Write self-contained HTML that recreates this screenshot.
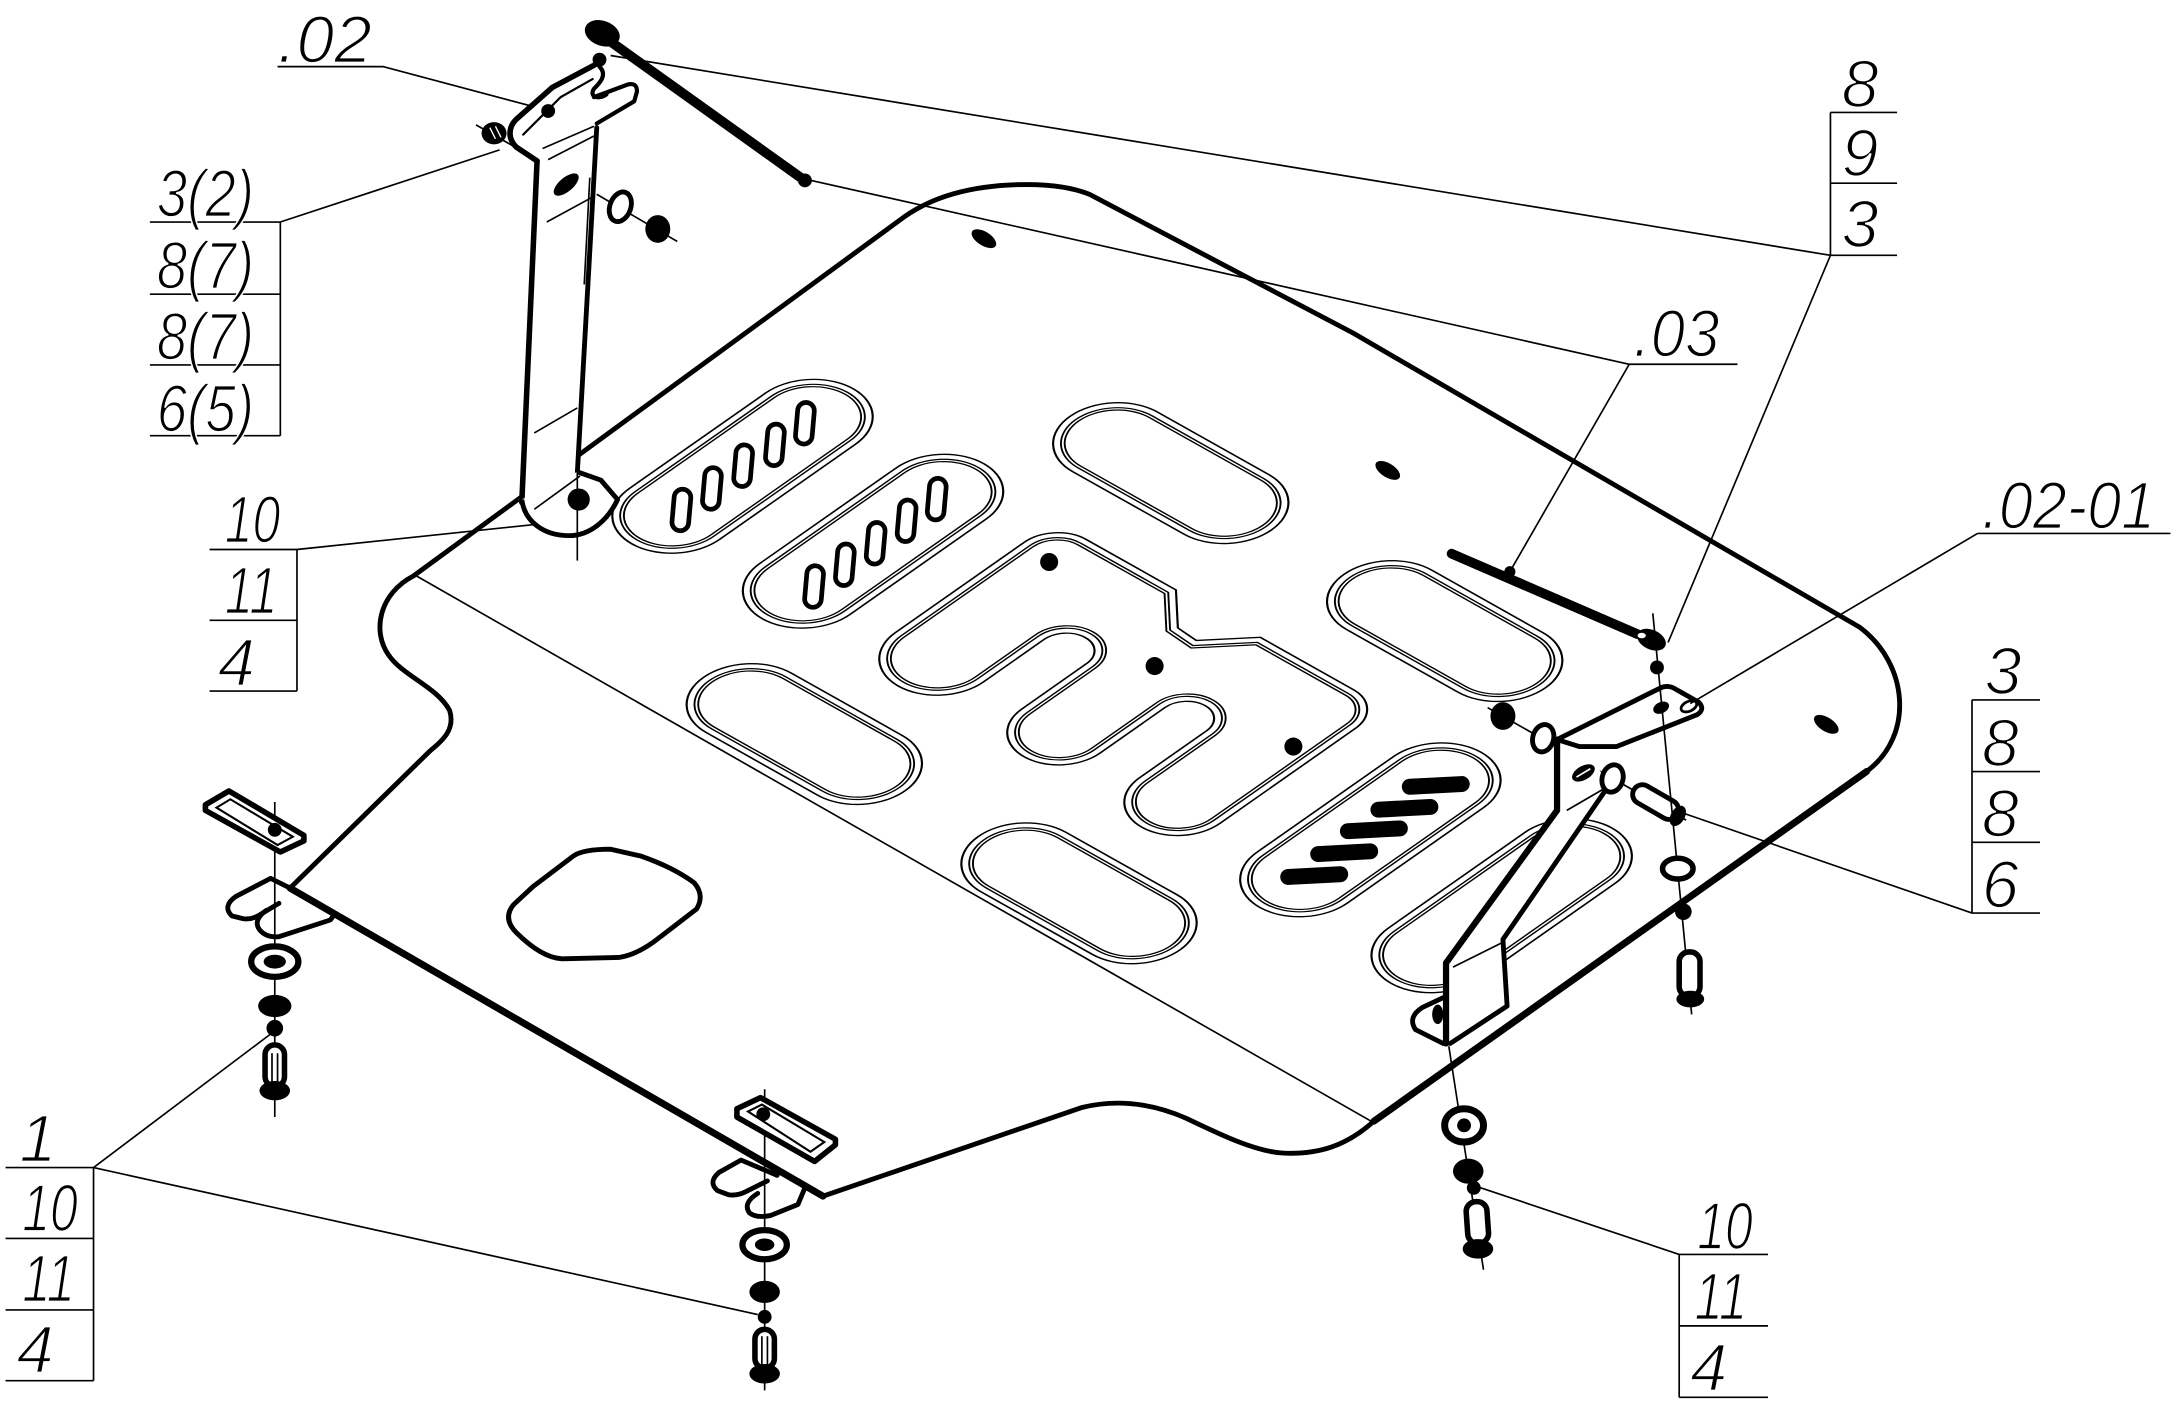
<!DOCTYPE html>
<html><head><meta charset="utf-8"><style>
html,body{margin:0;padding:0;background:#fff;}
svg{display:block;}
.t{font-family:"Liberation Sans",sans-serif;font-style:italic;font-size:48px;fill:#000;stroke:#fff;stroke-width:1.3px;}
.th{fill:none;stroke:#000;stroke-width:1.2;}
.k1{fill:none;stroke:#000;stroke-width:13;}
.k2{fill:#fff;stroke:#fff;stroke-width:10.4;}
.k3{fill:none;stroke:#000;stroke-width:3.4;}
.k4{fill:none;stroke:#fff;stroke-width:1.1;}
.b{fill:#000;}
.w{fill:#fff;stroke:#000;stroke-width:3.5;stroke-linejoin:round;}
.o{fill:none;stroke:#000;stroke-width:3.5;stroke-linejoin:round;stroke-linecap:round;}
</style></head><body>
<svg xmlns="http://www.w3.org/2000/svg" width="2176" height="1414" viewBox="0 0 1568 1019" preserveAspectRatio="none">
<defs>
<rect id="A" x="-91.5" y="-31.5" width="183" height="63" rx="31.5" ry="31.5"/>
<rect id="B" x="-31.5" y="-77.5" width="63" height="155" rx="31.5" ry="31.5"/>
<path id="E" d="M -90,830.5 L 23,830.5 A 20.5 20.5 0 0 1 43.5,851 L 43.5,923 L 18,948.5 L 16,970 L 43.5,997.5 L 43.5,1072 A 20.5 20.5 0 0 1 23,1092.5 L -96,1092.5 A 27.5 27.5 0 0 1 -96,1037.5 L -37,1037.5 A 23 23 0 0 0 -37,991.5 L -94,991.5 A 26.5 26.5 0 0 1 -94,938.5 L -37,938.5 A 23.5 23.5 0 0 0 -37,891.5 L -90,891.5 A 30.5 30.5 0 0 1 -90,830.5 Z"/>
</defs>
<rect x="0" y="0" width="1568" height="1019" fill="#fff"/>

<!-- plate -->
<path class="w" d="M209,640 L310,541 C320,533 328,525 324,512 C315,495 290,487 280,472 C268,455 273,428 298,415 L652,156 C672,142 700,133 740,133 C760,133 775,136 785,140 L975,240 L1340,452 C1375,478 1380,530 1345,556 L990,808 C970,826 950,832 925,831 C905,830 880,818 855,806 C830,795 805,792 780,798 L593,862 Z"/>
<path class="o" style="stroke-width:5" d="M209,640 L593,862 M1345,556 L990,808"/>
<path class="th" d="M300,415 L988,808"/>
<path class="o" d="M384,639 L413,617 Q420,612 440,612 L462,617 Q485,625 500,636 Q508,645 502,655 L476,675 Q460,688 446,690 L405,691 Q390,690 372,672 Q362,662 370,652 Z"/>

<!-- slots -->
<g transform="matrix(0.819,-0.574,0.872,0.49,0,0)">
<g transform="translate(-34.2,645.7)"><use href="#A" class="k1"/><use href="#A" class="k2"/><use href="#A" class="k3"/><use href="#A" class="k4"/></g>
<g transform="translate(-35.3,754.6)"><use href="#A" class="k1"/><use href="#A" class="k2"/><use href="#A" class="k3"/><use href="#A" class="k4"/></g>
<g transform="translate(-41.7,1171.6)"><use href="#A" class="k1"/><use href="#A" class="k2"/><use href="#A" class="k3"/><use href="#A" class="k4"/></g>
<g transform="translate(-43.2,1281.5)"><use href="#A" class="k1"/><use href="#A" class="k2"/><use href="#A" class="k3"/><use href="#A" class="k4"/></g>
<g transform="translate(128.7,846.6)"><use href="#B" class="k1"/><use href="#B" class="k2"/><use href="#B" class="k3"/><use href="#B" class="k4"/></g>
<g transform="translate(125.9,1075.6)"><use href="#B" class="k1"/><use href="#B" class="k2"/><use href="#B" class="k3"/><use href="#B" class="k4"/></g>
<g transform="translate(-196.6,849.3)"><use href="#B" class="k1"/><use href="#B" class="k2"/><use href="#B" class="k3"/><use href="#B" class="k4"/></g>
<g transform="translate(-200,1079.5)"><use href="#B" class="k1"/><use href="#B" class="k2"/><use href="#B" class="k3"/><use href="#B" class="k4"/></g>
<use href="#E" class="k1"/><use href="#E" class="k2"/><use href="#E" class="k3"/><use href="#E" class="k4"/>
</g>

<!-- holes in slots -->
<g class="w" style="stroke-width:3.4">
<rect x="485" y="352.5" width="12" height="30" rx="6" transform="rotate(5 491 367.5)"/>
<rect x="507" y="337" width="12" height="30" rx="6" transform="rotate(5 513 352)"/>
<rect x="529.5" y="320.6" width="12" height="30" rx="6" transform="rotate(5 535.5 335.6)"/>
<rect x="552.4" y="305.6" width="12" height="30" rx="6" transform="rotate(5 558.4 320.6)"/>
<rect x="574" y="290" width="12" height="30" rx="6" transform="rotate(5 580 305)"/>
<rect x="580.6" y="407.7" width="12" height="30" rx="6" transform="rotate(5 586.6 422.7)"/>
<rect x="602.8" y="392" width="12" height="30" rx="6" transform="rotate(5 608.8 407)"/>
<rect x="625" y="376.5" width="12" height="30" rx="6" transform="rotate(5 631 391.5)"/>
<rect x="647.3" y="360.3" width="12" height="30" rx="6" transform="rotate(5 653.3 375.3)"/>
<rect x="669" y="344.7" width="12" height="30" rx="6" transform="rotate(5 675 359.7)"/>
</g>
<g class="b">
<rect x="922.5" y="625.25" width="49" height="11.5" rx="5.75" transform="rotate(-3 947 631)"/>
<rect x="944.1" y="608.75" width="49" height="11.5" rx="5.75" transform="rotate(-3 968.6 614.5)"/>
<rect x="965.5" y="592.25" width="49" height="11.5" rx="5.75" transform="rotate(-3 990 598)"/>
<rect x="987.5" y="576.75" width="49" height="11.5" rx="5.75" transform="rotate(-3 1012 582.5)"/>
<rect x="1010.1" y="560.25" width="49" height="11.5" rx="5.75" transform="rotate(-3 1034.6 566)"/>
<circle cx="756" cy="405" r="6.5"/>
<circle cx="832" cy="480" r="6.5"/>
<circle cx="932" cy="538" r="6.5"/>
<ellipse cx="709" cy="172" rx="10" ry="5" transform="rotate(32 709 172)"/>
<ellipse cx="1000" cy="339" rx="10" ry="5" transform="rotate(32 1000 339)"/>
<ellipse cx="1316" cy="522" rx="10" ry="5" transform="rotate(32 1316 522)"/>
</g>

<!-- top-left bracket -->
<polygon fill="#fff" points="389,113 430,91 416,341 445,360 438,375 410,386 380,375 376,360"/>
<path class="o" style="stroke-width:4" d="M387,116 L376,362"/>
<path class="o" d="M430,92 L416,341"/>
<path class="th" d="M425,128 L421,205"/>
<path class="th" d="M394,160 L427,142 M385,312 L416,294 M391,107 L428,91 M395,115 L428,98"/>
<path class="o" style="stroke-width:4" d="M387,116 L372,106 C366,100 366,92 372,86 L398,63 L430,46"/>
<path class="o" style="stroke-width:1.6" d="M377,97 L404,70 L427,57"/>
<circle class="b" cx="395" cy="80" r="5"/>
<path class="o" style="stroke-width:3" d="M428,70 L452,61 Q459,59 459,66 L457,73 L430,89"/>
<path class="o" style="stroke-width:3" d="M432,48 C438,54 432,60 428,64 C424,70 432,72 437,68"/>
<circle class="b" cx="432" cy="43" r="5"/>
<ellipse class="b" cx="408" cy="133" rx="11" ry="5" transform="rotate(-40 408 133)"/>
<path class="w" d="M376,360 C378,376 392,386 410,386 C425,386 438,375 445,360 L433,346 L416,340"/>
<path class="th" d="M385,367 L418,343"/>
<circle class="b" cx="417" cy="360" r="8"/>
<path class="th" d="M416,330 L416,404"/>
<path class="th" d="M430,140 L488,174"/>
<ellipse class="w" cx="447" cy="149" rx="7.5" ry="11" transform="rotate(20 447 149)"/>
<ellipse class="b" cx="474" cy="165" rx="9" ry="10"/>
<path class="th" d="M343,90 L380,111"/>
<ellipse class="b" cx="356" cy="96" rx="9" ry="8"/>
<path stroke="#fff" stroke-width="1" d="M353,92 L357,100 M357,91 L361,99"/>
<path stroke="#000" stroke-width="7" d="M440,30 L577,128"/>
<circle class="b" cx="580" cy="130" r="5"/>
<ellipse class="b" cx="434" cy="24" rx="13" ry="9" transform="rotate(20 434 24)"/>

<!-- right bracket .02-01 -->
<path class="th" d="M1072,510 L1215,591"/>
<polygon fill="#fff" points="1122,533 1140,538 1160,565 1083,677 1086,725 1047,752 1042,752 1042,694 1122,584"/>
<path class="o" style="stroke-width:4.5" d="M1122,533 L1122,584 L1042,694 L1042,752"/>
<path class="o" d="M1160,565 L1083,677 L1086,725 L1045,752"/>
<path class="th" d="M1129,584 L1160,566 M1047,697 L1083,679"/>
<path class="w" d="M1122,533 L1196,496 Q1202,493 1208,497 L1224,506 Q1229,511 1223,515 L1165,538 L1138,538 Z"/>
<ellipse class="b" cx="1197" cy="510" rx="6" ry="4" transform="rotate(-25 1197 510)"/>
<ellipse class="w" cx="1217" cy="509" rx="6" ry="3.5" style="stroke-width:2" transform="rotate(-25 1217 509)"/>
<path class="o" d="M1042,718 L1025,726 Q1014,733 1020,742 L1040,752"/>
<ellipse class="b" cx="1036" cy="731" rx="4" ry="7"/>
<ellipse class="b" cx="1083" cy="516" rx="9" ry="10"/>
<ellipse class="w" cx="1112" cy="532" rx="7.5" ry="10" transform="rotate(15 1112 532)"/>
<ellipse class="b" cx="1141" cy="557" rx="9" ry="5" transform="rotate(-30 1141 557)"/>
<path stroke="#fff" stroke-width="1.2" d="M1136,560 L1146,554"/>
<ellipse class="w" cx="1162" cy="561" rx="7.5" ry="10" transform="rotate(15 1162 561)"/>
<rect class="w" x="1175" y="571" width="36" height="14" rx="7" transform="rotate(30 1193 578)"/>
<ellipse class="b" cx="1209" cy="588" rx="5" ry="8" transform="rotate(30 1209 588)"/>
<path stroke="#000" stroke-width="7" stroke-linecap="round" d="M1046,399 L1180,457"/>
<ellipse class="b" cx="1190" cy="461" rx="11" ry="7" transform="rotate(25 1190 461)"/>
<ellipse fill="#fff" cx="1183" cy="458" rx="3" ry="2"/>
<circle class="b" cx="1194" cy="481" r="5"/>
<circle class="b" cx="1088" cy="412" r="4"/>
<path class="th" d="M1191,442 L1219,731"/>
<ellipse class="w" cx="1209" cy="626" rx="11" ry="7.5" style="stroke-width:4"/>
<circle class="b" cx="1213" cy="657" r="6"/>
<rect class="w" x="1210" y="686" width="15" height="32" rx="7" style="stroke-width:4"/>
<ellipse class="b" cx="1218" cy="720" rx="10" ry="6"/>

<!-- bottom-left hardware -->
<path class="th" d="M198,578 L198,805"/>
<path class="w" style="stroke-width:4" d="M148,580 L165,570 L219,602 L219,606 L202,614 L148,584 Z"/>
<path class="th" style="stroke-width:1.5" d="M156,582 L166,576 L211,603 L200,609 Z"/>
<circle class="b" cx="198" cy="598" r="5"/>
<path class="o" d="M209,640 L195,633 L170,646 Q160,653 167,660 L175,662 Q180,663 186,660 L201,651"/>
<path class="o" d="M192,656 Q182,663 187,670 Q192,676 201,675 L238,663 L241,659"/>
<ellipse class="w" cx="198" cy="693" rx="17" ry="11" style="stroke-width:4.5"/>
<ellipse class="b" cx="198" cy="693" rx="8" ry="5"/>
<ellipse class="b" cx="198" cy="725" rx="12" ry="8"/>
<circle class="b" cx="198" cy="741" r="6"/>
<rect class="w" x="191" y="753" width="14" height="30" rx="7" style="stroke-width:4"/>
<ellipse class="b" cx="198" cy="786" rx="11" ry="7"/>
<path class="th" d="M196,759 L196,781 M200,759 L200,781"/>

<!-- bottom-middle hardware -->
<path class="th" d="M551,785 L551,1002"/>
<path class="w" style="stroke-width:4" d="M531,799 L548,791 L602,821 L602,825 L587,837 L531,805 Z"/>
<path class="th" style="stroke-width:1.5" d="M539,801 L549,796 L594,823 L584,830 Z"/>
<circle class="b" cx="550" cy="803" r="5"/>
<path class="o" d="M560,847 L534,836 L518,845 Q510,852 517,858 L525,861 Q531,862 537,859 L553,851"/>
<path class="o" d="M546,860 Q535,867 540,874 Q545,878 555,876 L575,868 L580,856"/>
<ellipse class="w" cx="551" cy="897" rx="16" ry="10.5" style="stroke-width:4.5"/>
<ellipse class="b" cx="551" cy="897" rx="7" ry="4.5"/>
<ellipse class="b" cx="551" cy="931" rx="11" ry="8"/>
<circle class="b" cx="551" cy="949" r="5"/>
<rect class="w" x="544" y="958" width="14" height="28" rx="7" style="stroke-width:4"/>
<ellipse class="b" cx="551" cy="990" rx="11" ry="7"/>
<path class="th" d="M549,963 L549,984 M553,963 L553,984"/>

<!-- bottom-right hardware -->
<path class="th" d="M1044,754 L1069,915"/>
<ellipse class="w" cx="1055" cy="811" rx="14" ry="12" style="stroke-width:5"/>
<circle class="b" cx="1055" cy="811" r="5"/>
<ellipse class="b" cx="1058" cy="844" rx="11" ry="9"/>
<circle class="b" cx="1062" cy="856" r="5"/>
<rect class="w" x="1057" y="866" width="15" height="30" rx="7" style="stroke-width:4" transform="rotate(-4 1064 880)"/>
<ellipse class="b" cx="1065" cy="900" rx="11" ry="7"/>

<!-- leader lines and label frames -->
<path class="th" d="M200,48 L276,48 L385,77"/>
<path class="th" d="M108,160 L202,160 M108,212 L202,212 M108,263 L202,263 M108,314 L202,314 M202,160 L202,314 M202,160 L360,108"/>
<path class="th" d="M151,396 L214,396 M151,447 L214,447 M151,498 L214,498 M214,396 L214,498 M214,396 L385,378"/>
<path class="th" d="M1319,81 L1367,81 M1319,132 L1367,132 M1319,184 L1367,184 M1319,81 L1319,184 M1319,184 L440,40 M1319,184 L1202,463"/>
<path class="th" d="M1174,262.5 L1252,262.5 M1174,262.5 L580,129 M1174,262.5 L1088,412"/>
<path class="th" d="M1425,384.4 L1564,384.4 M1425,384.4 L1218,507"/>
<path class="th" d="M1421,504.4 L1470,504.4 M1421,556 L1470,556 M1421,607 L1470,607 M1421,658 L1470,658 M1421,504.4 L1421,658 M1421,658 L1210,585"/>
<path class="th" d="M1210,904 L1274,904 M1210,955.5 L1274,955.5 M1210,1007 L1274,1007 M1210,904 L1210,1007 M1210,904 L1064,855"/>
<path class="th" d="M4,841.4 L67.4,841.4 M4,892.5 L67.4,892.5 M4,944 L67.4,944 M4,995 L67.4,995 M67.4,841.4 L67.4,995 M67.4,841.4 L194.4,745.6 M67.4,841.4 L546,947.3"/>

<!-- labels -->
<text class="t" x="200" y="45" textLength="68" lengthAdjust="spacingAndGlyphs">.02</text>
<text class="t" x="113" y="156" textLength="70" lengthAdjust="spacingAndGlyphs">3(2)</text>
<text class="t" x="113" y="208" textLength="70" lengthAdjust="spacingAndGlyphs">8(7)</text>
<text class="t" x="113" y="259" textLength="70" lengthAdjust="spacingAndGlyphs">8(7)</text>
<text class="t" x="113" y="311" textLength="70" lengthAdjust="spacingAndGlyphs">6(5)</text>
<text class="t" x="162" y="391" textLength="40" lengthAdjust="spacingAndGlyphs">10</text>
<text class="t" x="162" y="442" textLength="38" lengthAdjust="spacingAndGlyphs">11</text>
<text class="t" x="157" y="494">4</text>
<text class="t" x="1327" y="77">8</text>
<text class="t" x="1327" y="127">9</text>
<text class="t" x="1327" y="178">3</text>
<text class="t" x="1177" y="257" textLength="62" lengthAdjust="spacingAndGlyphs">.03</text>
<text class="t" x="1428" y="381" textLength="125" lengthAdjust="spacingAndGlyphs">.02-01</text>
<text class="t" x="1430" y="500">3</text>
<text class="t" x="1428" y="552">8</text>
<text class="t" x="1428" y="603">8</text>
<text class="t" x="1428" y="654">6</text>
<text class="t" x="1223" y="900" textLength="40" lengthAdjust="spacingAndGlyphs">10</text>
<text class="t" x="1221" y="951" textLength="38" lengthAdjust="spacingAndGlyphs">11</text>
<text class="t" x="1218" y="1002">4</text>
<text class="t" x="14" y="837">1</text>
<text class="t" x="16" y="887" textLength="40" lengthAdjust="spacingAndGlyphs">10</text>
<text class="t" x="16" y="938" textLength="38" lengthAdjust="spacingAndGlyphs">11</text>
<text class="t" x="12" y="989">4</text>
</svg>
</body></html>
